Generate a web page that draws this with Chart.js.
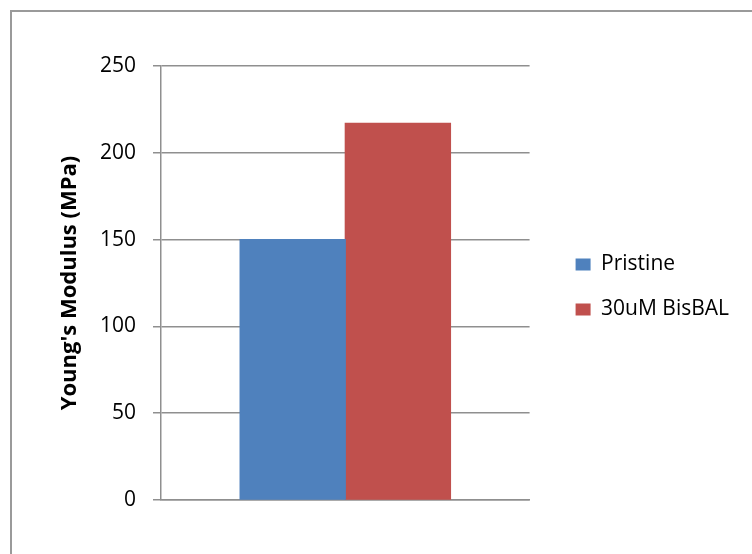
<!DOCTYPE html>
<html>
<head>
<meta charset="utf-8">
<script src="https://cdn.jsdelivr.net/npm/chart.js@4.4.1/dist/chart.umd.min.js"></script>
<style>
  html, body { margin: 0; padding: 0; background: #ffffff; }
  #wrap { width: 752px; height: 554px; }
</style>
</head>
<body>
<div id="wrap"><canvas id="chart" width="752" height="554"></canvas></div>
<script>
// Young's modulus of the two sample groups
const categories = [''];
const seriesNames = ['Pristine', '30uM BisBAL'];
const pristineValues = [150];
const bisbalValues = [217];
const yTicks = [0, 50, 100, 150, 200, 250];

const blue = '#4F81BD';
const red = '#C0504D';
const axisGray = '#8f8f8f';
const fontFamily = '"Open Sans", "Liberation Sans", sans-serif';

// Frame around the whole chart plus white background
const framePlugin = {
  id: 'frame',
  beforeDraw(chart) {
    const ctx = chart.ctx;
    ctx.save();
    ctx.fillStyle = '#ffffff';
    ctx.fillRect(0, 0, chart.width, chart.height);
    ctx.strokeStyle = '#9a9a9a';
    ctx.lineWidth = 2;
    ctx.strokeRect(11, 11, chart.width + 20, chart.height + 20);
    ctx.restore();
  }
};

new Chart(document.getElementById('chart'), {
  type: 'bar',
  data: {
    labels: categories,
    datasets: [
      { label: seriesNames[0], data: pristineValues, backgroundColor: blue, inflateAmount: 0.6 },
      { label: seriesNames[1], data: bisbalValues, backgroundColor: red, inflateAmount: 0.6 }
    ]
  },
  options: {
    responsive: false,
    animation: false,
    devicePixelRatio: 1,
    categoryPercentage: 0.5707,
    barPercentage: 1.0,
    layout: { padding: { top: 66, right: 13, bottom: 46, left: 0 } },
    plugins: {
      tooltip: { enabled: false },
      legend: {
        position: 'right',
        align: 'center',
        maxWidth: 400,
        labels: {
          boxWidth: 15,
          boxHeight: 12,
          padding: 24,
          color: '#000000',
          font: { family: fontFamily, size: 21 }
        }
      }
    },
    scales: {
      x: {
        display: true,
        ticks: { display: false },
        grid: { display: false },
        border: { display: true, color: axisGray, width: 1.5 }
      },
      y: {
        min: 0,
        max: 250,
        afterFit(scale) { scale.width = 161; },
        afterBuildTicks(scale) { scale.ticks = yTicks.map(v => ({ value: v })); },
        ticks: {
          padding: 17,
          color: '#000000',
          font: { family: fontFamily, size: 21 }
        },
        grid: { color: axisGray, lineWidth: 1.5, tickLength: 8 },
        border: { display: true, color: axisGray, width: 1.5 },
        title: {
          display: true,
          text: "Young's Modulus (MPa)",
          color: '#000000',
          padding: { top: 57, bottom: 0 },
          font: { family: fontFamily, size: 22, weight: 'bold' }
        }
      },
      // empty spacer between the plot and the legend
      gap: {
        position: 'right',
        display: true,
        ticks: { display: false },
        grid: { display: false },
        border: { display: false },
        afterFit(scale) { scale.width = 22; }
      }
    }
  },
  plugins: [framePlugin]
});
</script>
</body>
</html>
